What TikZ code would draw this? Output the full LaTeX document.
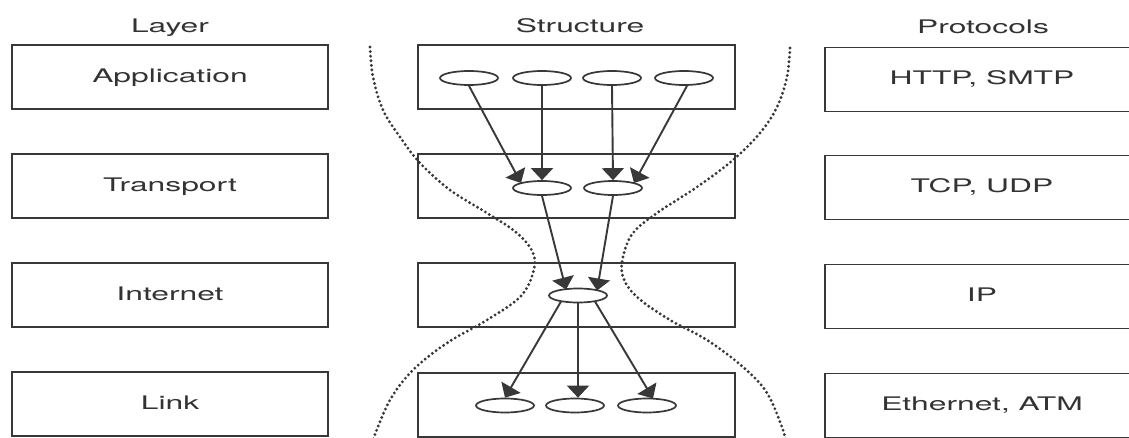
\documentclass[tikz,border=0pt]{standalone}
\usepackage{fontspec}
\setmainfont{TeX Gyre Heros}
\usetikzlibrary{shapes.geometric,arrows.meta,calc}
\definecolor{ink}{HTML}{383838}
\definecolor{txt}{HTML}{333333}
\newcommand{\wtx}[1]{\scalebox{1.7}[1]{#1}}
\begin{document}
\begin{tikzpicture}[x=1pt,y=-1pt,
  font=\fontsize{18.7}{22}\selectfont,
  box/.style={draw=ink, line width=1.9pt, minimum width=316pt, minimum height=64pt,
    inner sep=0pt, text=txt, text height=13.9pt, text depth=3.8pt},
  ell/.style={draw=ink, line width=1.7pt, ellipse, minimum width=58pt,
    minimum height=14pt, inner sep=0pt, fill=white},
  head/.style={anchor=base, text=txt, inner sep=0pt},
  arr/.style={draw=ink, line width=1.9pt, -{Triangle[length=12pt,width=22pt]}},
  dots/.style={draw=ink, line width=3.2pt, line cap=round, dash pattern=on 0pt off 4.6pt}]
\fill[white] (0,0) rectangle (1129,437);
\useasboundingbox (0,0) rectangle (1129,437);

% headers
\node[head] (hlayer) at (170,32) {\wtx{Layer}};
\node[head] (hstruct) at (580,32) {\wtx{Structure}};
\node[head] (hproto) at (983,33) {\wtx{Protocols}};

% layer boxes
\node[box] (lapp) at (170,77) {\wtx{Application}};
\node[box] (ltra) at (170,186) {\wtx{Transport}};
\node[box] (lint) at (170,295) {\wtx{Internet}};
\node[box] (llnk) at (170,404) {\wtx{Link}};

% structure boxes
\node[box, minimum width=317pt] (sapp) at (576.5,77) {};
\node[box, minimum width=317pt] (stra) at (576.5,186) {};
\node[box, minimum width=317pt] (sint) at (576.5,295) {};
\node[box, minimum width=317pt] (slnk) at (576.5,405) {};

% protocol boxes
\node[box, minimum width=314pt] (papp) at (982,79.5) {\wtx{HTTP, SMTP}};
\node[box, minimum width=314pt] (ptra) at (982,187.5) {\wtx{TCP, UDP}};
\node[box, minimum width=314pt] (pint) at (982,296.5) {\wtx{IP}};
\node[box, minimum width=314pt] (plnk) at (982,405.5) {\wtx{Ethernet, ATM}};

% dotted hourglass
\draw[dots] plot[smooth, tension=0.6] coordinates {(370,47) (373,77) (383,110) (400,137)
  (420,163) (450,190) (487,213) (517,233) (533,253) (533,273) (520,297) (487,320)
  (447,343) (413,370) (390,400) (374,437) (373,442)};
\draw[dots] plot[smooth, tension=0.6] coordinates {(790,48) (787,77) (777,107) (760,133)
  (733,160) (697,187) (657,213) (633,233) (623,257) (623,277) (637,297) (670,320)
  (707,340) (743,367) (767,393) (783,430) (785,442)};

% ellipses
\node[ell] (a1) at (469,78) {};
\node[ell] (a2) at (542,78) {};
\node[ell] (a3) at (612,78) {};
\node[ell] (a4) at (684,78) {};
\node[ell] (t1) at (542,188) {};
\node[ell] (t2) at (613,188) {};
\node[ell] (i1) at (578,295.5) {};
\node[ell] (l1) at (505,405.5) {};
\node[ell] (l2) at (575,405.5) {};
\node[ell] (l3) at (647,405.5) {};

% arrows
\draw[arr] (a1.south) -- ($(t1)+(-21,-5)$);
\draw[arr] (a2.south) -- (t1.north);
\draw[arr] (a3.south) -- (t2.north);
\draw[arr] ($(a4.south)+(3,0)$) -- ($(t2)+(21,-5)$);
\draw[arr] (t1.south) -- ($(i1)+(-12,-6)$);
\draw[arr] (t2.south) -- ($(i1)+(19,-5)$);
\draw[arr] ($(i1)+(-17,6)$) -- (l1.north);
\draw[arr] (i1.south) -- (i1.south |- l2.north);
\draw[arr] ($(i1)+(17,6)$) -- ($(l3)+(6,-7)$);
\end{tikzpicture}
\end{document}
